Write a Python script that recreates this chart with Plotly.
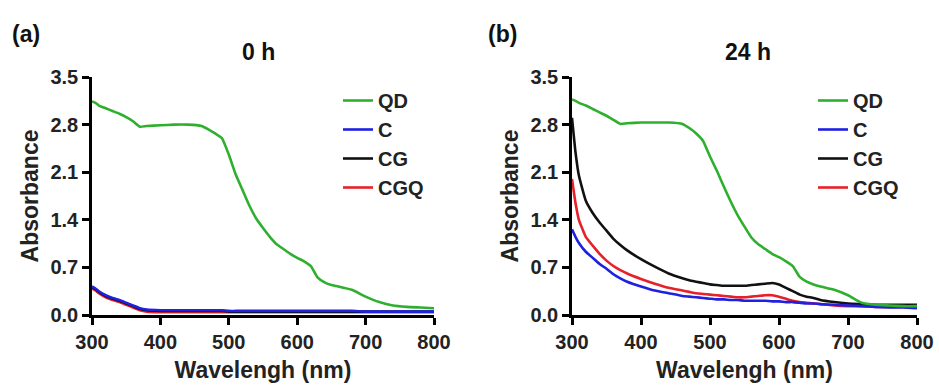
import plotly.graph_objects as go

wavelength = [300, 305, 310, 320, 330, 340, 350, 360, 370, 380, 400, 420, 440, 460, 470, 480,
              490, 500, 510, 520, 530, 540, 550, 560, 570, 580, 590, 600, 610, 620, 630, 640,
              650, 660, 680, 700, 720, 740, 760, 780, 800]

# Panel (a) 0 h
qd_0h = [3.14, 3.12, 3.08, 3.04, 3.00, 2.96, 2.91, 2.85, 2.77, 2.78, 2.79, 2.80, 2.80, 2.78, 2.73, 2.67,
         2.60, 2.36, 2.07, 1.84, 1.61, 1.42, 1.28, 1.15, 1.04, 0.97, 0.90, 0.84, 0.79, 0.72, 0.55, 0.48,
         0.44, 0.42, 0.37, 0.27, 0.19, 0.14, 0.12, 0.11, 0.10]
c_0h = [0.42, 0.39, 0.35, 0.29, 0.25, 0.22, 0.18, 0.14, 0.10, 0.08, 0.07, 0.07, 0.07, 0.07, 0.07, 0.07,
        0.07, 0.06, 0.06, 0.06, 0.06, 0.06, 0.06, 0.06, 0.06, 0.06, 0.06, 0.06, 0.06, 0.06, 0.06, 0.06,
        0.06, 0.06, 0.06, 0.05, 0.05, 0.05, 0.05, 0.05, 0.05]
cg_0h = [0.41, 0.38, 0.34, 0.28, 0.24, 0.21, 0.17, 0.13, 0.09, 0.07, 0.06, 0.06, 0.06, 0.06, 0.06, 0.06,
         0.06, 0.05, 0.05, 0.05, 0.05, 0.05, 0.05, 0.05, 0.05, 0.05, 0.05, 0.05, 0.05, 0.05, 0.05, 0.05,
         0.05, 0.05, 0.05, 0.05, 0.05, 0.05, 0.05, 0.05, 0.05]
cgq_0h = [0.39, 0.36, 0.32, 0.26, 0.22, 0.19, 0.15, 0.11, 0.07, 0.05, 0.04, 0.04, 0.04, 0.04, 0.04, 0.04,
          0.04, 0.04, 0.04, 0.04, 0.04, 0.04, 0.04, 0.04, 0.04, 0.04, 0.04, 0.04, 0.04, 0.04, 0.04, 0.04,
          0.04, 0.04, 0.04, 0.04, 0.04, 0.04, 0.04, 0.04, 0.04]

# Panel (b) 24 h
qd_24h = [3.17, 3.15, 3.12, 3.08, 3.03, 2.98, 2.93, 2.87, 2.81, 2.82, 2.83, 2.83, 2.83, 2.81, 2.75, 2.67,
          2.56, 2.33, 2.12, 1.89, 1.67, 1.47, 1.30, 1.14, 1.04, 0.97, 0.90, 0.85, 0.79, 0.72, 0.56, 0.49,
          0.45, 0.42, 0.37, 0.29, 0.18, 0.15, 0.14, 0.13, 0.13]
c_24h = [1.26, 1.15, 1.06, 0.93, 0.84, 0.75, 0.68, 0.60, 0.54, 0.49, 0.42, 0.36, 0.32, 0.28, 0.27, 0.26,
         0.25, 0.24, 0.23, 0.23, 0.22, 0.22, 0.21, 0.21, 0.21, 0.21, 0.20, 0.20, 0.19, 0.19, 0.18, 0.17,
         0.17, 0.16, 0.15, 0.14, 0.13, 0.12, 0.11, 0.11, 0.10]
cg_24h = [2.90, 2.40, 2.05, 1.68, 1.50, 1.36, 1.24, 1.12, 1.03, 0.95, 0.82, 0.71, 0.61, 0.54, 0.51, 0.49,
          0.47, 0.45, 0.44, 0.43, 0.43, 0.43, 0.43, 0.44, 0.45, 0.46, 0.47, 0.45, 0.40, 0.35, 0.30, 0.27,
          0.25, 0.22, 0.19, 0.17, 0.16, 0.15, 0.15, 0.15, 0.15]
cgq_24h = [2.00, 1.65, 1.40, 1.15, 1.02, 0.90, 0.80, 0.72, 0.66, 0.61, 0.53, 0.46, 0.40, 0.36, 0.34, 0.32,
           0.31, 0.30, 0.29, 0.28, 0.27, 0.26, 0.26, 0.27, 0.28, 0.29, 0.29, 0.27, 0.24, 0.21, 0.19, 0.18,
           0.17, 0.16, 0.14, 0.13, 0.13, 0.12, 0.12, 0.12, 0.12]

series_names = ["QD", "C", "CG", "CGQ"]
colors = {"QD": "#2eb02e", "C": "#2020e0", "CG": "#111111", "CGQ": "#e8202a"}
panels = [
    ("x", "y", "legend", {"QD": qd_0h, "C": c_0h, "CG": cg_0h, "CGQ": cgq_0h}),
    ("x2", "y2", "legend2", {"QD": qd_24h, "C": c_24h, "CG": cg_24h, "CGQ": cgq_24h}),
]

FONT = "Liberation Sans, Arial, sans-serif"
fig = go.Figure()
for xa, ya, lg, data in panels:
    for name in reversed(series_names):
        fig.add_trace(go.Scatter(
            x=wavelength, y=data[name], name=name, mode="lines",
            line=dict(color=colors[name], width=2.6, shape="spline", smoothing=0.4),
            xaxis=xa, yaxis=ya, legend=lg,
        ))

ydom = [1 - 315 / 385, 1 - 77 / 385]
axis_common = dict(
    showgrid=False, zeroline=False, showline=True, linecolor="black", linewidth=2.5,
    ticks="outside", ticklen=7, tickwidth=2.5, tickcolor="black", automargin=False,
    tickfont=dict(family=FONT, size=20, color="#222", weight="bold"),
)
xt = dict(text="Wavelengh (nm)", font=dict(family=FONT, size=23, color="#222", weight="bold"), standoff=11)
yt = dict(text="Absorbance", font=dict(family=FONT, size=23, color="#222", weight="bold"), standoff=6)
xticks = [300, 400, 500, 600, 700, 800]
yticks = [0.0, 0.7, 1.4, 2.1, 2.8, 3.5]
ytext = ["0.0", "0.7", "1.4", "2.1", "2.8", "3.5"]

legend_common = dict(
    font=dict(family=FONT, size=20, color="#222", weight="bold"),
    traceorder="reversed", bgcolor="rgba(0,0,0,0)", xanchor="left", yanchor="top",
    tracegroupgap=0, itemwidth=30,
)

fig.update_layout(
    width=939, height=385, margin=dict(l=0, r=0, t=0, b=0, autoexpand=False),
    paper_bgcolor="white", plot_bgcolor="white", showlegend=True,
    xaxis=dict(domain=[92 / 939, 434 / 939], range=[300, 800], tickvals=xticks, title=xt,
               anchor="y", **axis_common),
    yaxis=dict(domain=ydom, range=[0, 3.5], tickvals=yticks, ticktext=ytext, title=yt,
               anchor="x", **axis_common),
    xaxis2=dict(domain=[572 / 939, 917 / 939], range=[300, 800], tickvals=xticks, title=xt,
                anchor="y2", **axis_common),
    yaxis2=dict(domain=ydom, range=[0, 3.5], tickvals=yticks, ticktext=ytext, title=yt,
                anchor="x2", **axis_common),
    legend=dict(x=338 / 939, y=1 - 81 / 385, **legend_common),
    legend2=dict(x=813 / 939, y=1 - 81 / 385, **legend_common),
)

title_font = dict(family=FONT, size=23, color="#111", weight="bold")
annots = [
    dict(text="(a)", x=10 / 939, y=1 - 34 / 385, xanchor="left"),
    dict(text="0 h", x=258 / 939, y=1 - 52 / 385, xanchor="center"),
    dict(text="(b)", x=486 / 939, y=1 - 34 / 385, xanchor="left"),
    dict(text="24 h", x=748 / 939, y=1 - 52 / 385, xanchor="center"),
]
for a in annots:
    fig.add_annotation(xref="paper", yref="paper", yanchor="middle", showarrow=False,
                       font=title_font, **a)

fig.write_html("out.html", config={"displayModeBar": False},
               post_script="document.body.style.margin='0';document.body.style.overflow='hidden';")
